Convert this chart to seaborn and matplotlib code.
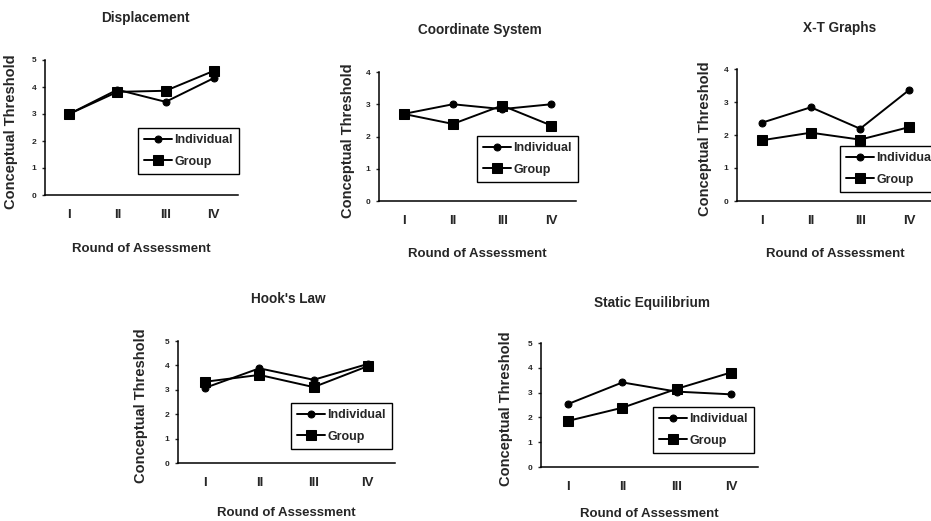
import seaborn as sns
import matplotlib.pyplot as plt
import pandas as pd

sns.set_style("white")
plt.rcParams['font.family'] = ['Liberation Sans', 'DejaVu Sans']
plt.rcParams['font.weight'] = 'bold'

rounds = ["I", "II", "III", "IV"]
series = ["Individual", "Group"]

titles = ["Displacement", "Coordinate System", "X-T Graphs", "Hook's Law", "Static Equilibrium"]
individual = [
    [3.0, 3.9, 3.45, 4.33],
    [2.7, 3.0, 2.85, 3.0],
    [2.37, 2.84, 2.19, 3.37],
    [3.08, 3.88, 3.41, 4.06],
    [2.54, 3.41, 3.04, 2.93],
]
group = [
    [3.0, 3.82, 3.86, 4.6],
    [2.7, 2.39, 2.96, 2.34],
    [1.84, 2.07, 1.86, 2.24],
    [3.33, 3.61, 3.11, 3.97],
    [1.86, 2.39, 3.15, 3.81],
]
ymax = [5, 4, 4, 5, 5]

W, H = 931, 521
# pixel layout: axes box, title, x label, y label, legend top-left
boxes = [(45, 60, 238, 195), (379, 72, 576, 201), (737, 69, 934, 201),
         (178, 341, 395, 463), (541, 343, 758, 467)]
title_pos = [(145, 18), (480, 30), (840, 28), (288, 299), (652, 303)]
xlab_y = [243, 248, 248, 507, 508]
ylab_x = [18, 355, 712, 148, 513]
leg_pos = [(138, 128), (477, 136), (840, 146), (291, 403), (653, 407)]

fig = plt.figure(figsize=(W / 100, H / 100), dpi=100)

for i, t in enumerate(titles):
    x0, y0, x1, y1 = boxes[i]
    ax = fig.add_axes([x0 / W, 1 - y1 / H, (x1 - x0) / W, (y1 - y0) / H])
    df = pd.DataFrame({"round": rounds * 2,
                       "value": individual[i] + group[i],
                       "series": ["Individual"] * 4 + ["Group"] * 4})
    for s, m, ms in zip(series, ["o", "s"], [5, 7]):
        sub = df[df["series"] == s]
        sns.lineplot(data=sub, x="round", y="value", marker=m, markersize=ms,
                     color="black", lw=1.4, markeredgecolor="black",
                     label=s, ax=ax)
    ax.set_xlim(-0.5, 3.5)
    ax.set_ylim(0, ymax[i])
    ax.set_yticks(range(ymax[i] + 1))
    ax.set_xticks(range(4))
    ax.set_xticks([-0.5, 0.5, 1.5, 2.5, 3.5], minor=True)
    ax.tick_params(axis="x", which="major", length=0, pad=10, labelsize=9.5)
    ax.tick_params(axis="x", which="minor", length=3, direction="in", width=1)
    ax.tick_params(axis="y", length=2, width=1, direction="out", pad=4, labelsize=6, left=True)
    for side in ["top", "right"]:
        ax.spines[side].set_visible(False)
    for side in ["left", "bottom"]:
        ax.spines[side].set_color("black")
        ax.spines[side].set_linewidth(1.1)
    ax.set_xlabel("Round of Assessment", fontsize=9.5, fontweight="bold")
    ax.set_ylabel("Conceptual Threshold", fontsize=10.5, fontweight="bold")
    ax.xaxis.set_label_coords(0.5, (y1 - xlab_y[i]) / (y1 - y0))
    ax.yaxis.set_label_coords((ylab_x[i] - x0) / (x1 - x0), 0.47)
    fig.text(title_pos[i][0] / W, 1 - title_pos[i][1] / H, t, ha="center", va="center",
             fontsize=9.8, fontweight="bold")
    lx, ly = leg_pos[i]
    leg = ax.legend(loc="upper left", bbox_to_anchor=(lx / W, 1 - ly / H),
                    bbox_transform=fig.transFigure, fancybox=False, framealpha=1,
                    edgecolor="black", fontsize=9, handlelength=2.2, handletextpad=0.2,
                    labelspacing=0.75, borderpad=0.5, borderaxespad=0)
    leg.get_frame().set_linewidth(1)

fig.savefig("out.png", dpi=100)
